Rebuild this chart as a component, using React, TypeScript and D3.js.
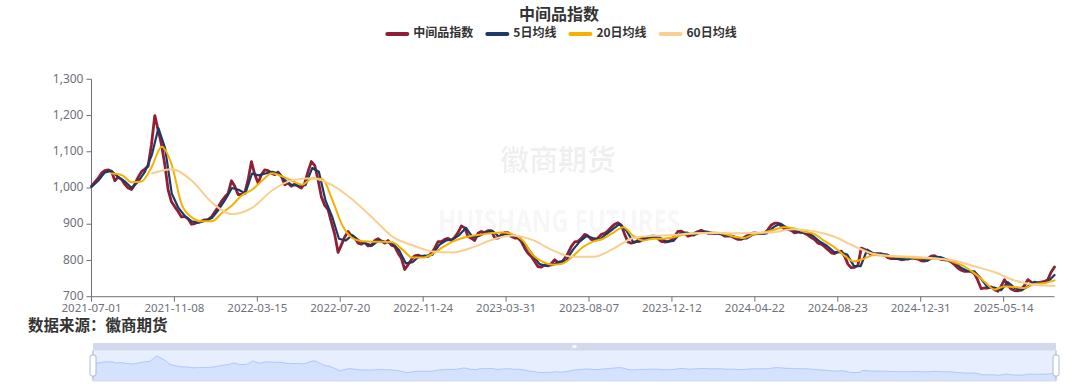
import React from 'react';
import * as d3 from 'd3';

const TITLE = '中间品指数';
const SOURCE = '数据来源：徽商期货';
const WATERMARK_CN = '徽商期货';
const WATERMARK_EN = 'HUISHANG FUTURES';
const SERIES_NAMES = ['中间品指数', '5日均线', '20日均线', '60日均线'];
const SERIES_COLORS = ['#8E1F35', '#1F3864', '#F5B000', '#F8CF8E'];

const Y_TICKS = [700, 800, 900, 1000, 1100, 1200, 1300];
const X_TICK_LABELS = [
  '2021-07-01', '2021-11-08', '2022-03-15', '2022-07-20', '2022-11-24', '2023-03-31',
  '2023-08-07', '2023-12-12', '2024-04-22', '2024-08-23', '2024-12-31', '2025-05-14',
];
// trading-day index of each labelled category
const X_TICK_DAY = [0, 88, 176, 264, 352, 440, 528, 616, 704, 792, 880, 968];
const TOTAL_DAYS = 1023;

// 中间品指数, sampled evenly across the whole period
const INDEX_VALUES = [
  1005, 1016, 1027, 1041, 1048, 1050, 1046, 1020, 1030, 1024, 1010, 1000, 996, 1010, 1030, 1045, 1052, 1060, 1120, 1200,
  1160, 1120, 1065, 995, 962, 948, 935, 920, 922, 915, 900, 902, 906, 909, 912, 913, 920, 934, 947, 963,
  975, 985, 1020, 1005, 982, 982, 986, 1023, 1073, 1037, 1014, 1037, 1050, 1048, 1041, 1037, 1044, 1032, 1009, 1014,
  1005, 1011, 1005, 1000, 1014, 1046, 1073, 1062, 1022, 975, 952, 940, 905,
  872, 822, 843, 865, 880, 868, 862, 848, 845, 850, 840, 841, 855, 860, 853, 848, 855, 842, 839, 820,
  806, 775, 788, 802, 813, 815, 811, 813, 811, 820, 834, 852, 852, 858, 861, 855, 864, 877, 895, 890,
  866, 861, 855, 875, 880, 877, 882, 882, 862, 862, 871, 877, 877, 866, 862, 862, 852, 834, 820, 811,
  797, 783, 782, 788, 785, 791, 802, 794, 793, 806, 820, 839,
  851, 853, 861, 872, 868, 858, 855, 862, 872, 875, 882, 892, 900, 904, 897, 872, 851, 848, 850, 855,
  860, 862, 864, 867, 867, 860, 853, 851, 852, 856, 868, 880, 881, 875, 867, 870, 875, 880, 883, 879,
  875, 875, 875, 875, 873, 867, 867, 867, 862, 858, 858, 864, 870, 875, 876, 875, 875, 875, 885, 898,
  903, 903, 895, 886, 886, 883, 876, 878, 879, 875, 870, 863,
  858, 848, 845, 838, 830, 821, 819, 824, 826, 812, 790, 780, 781, 786, 834, 831, 823, 816, 818, 819,
  818, 815, 808, 805, 806, 805, 802, 803, 808, 807, 806, 804, 799, 798, 805, 812, 813, 807, 803, 802,
  801, 796, 788, 779, 773, 770, 770, 770, 763, 745, 722, 724, 724, 727, 719, 715, 729, 747, 732, 721,
  717, 716, 720, 731, 747, 740, 736, 738, 740, 742, 747, 768, 782,
];

// 5日均线
const MA5_VALUES = [
  1003, 1020, 1043, 1047, 1030, 1018, 1000, 1018, 1045, 1090, 1165, 1110, 985, 945, 922, 908, 904, 910, 917, 940,
  968, 1000, 995, 985, 1040, 1035, 1040, 1045, 1040, 1020, 1008, 1007, 1008, 1055, 1045, 965, 920, 860, 855, 870,
  855, 847, 842, 856, 851, 847, 828, 792, 795, 812, 812, 816, 843, 855, 858, 870, 890, 864, 868, 878,
  881, 864, 874, 870, 863, 840, 815, 790, 785, 788, 797, 800, 830, 852, 867, 862, 858, 873, 887, 901,
  882, 851, 852, 861, 865, 863, 852, 854, 874, 877, 869, 877, 880, 875, 875, 869, 867, 860, 861, 872,
  875, 875, 892, 902, 890, 884, 877, 877, 866, 851, 840, 824, 822, 816, 785, 784, 830, 819, 818, 816,
  806, 805, 803, 807, 805, 799, 810, 809, 802, 797, 780, 771, 770, 750, 726, 725, 718, 740, 725, 717,
  728, 741, 737, 741, 760,
];

// 20日均线
const MA20_VALUES = [
  null, null, 1040, 1036, 1016, 1018, 1058, 1114, 1064, 954, 919, 908, 908, 931, 952, 980, 995, 1020, 1041, 1032,
  1020, 1009, 1027, 1025, 968, 897, 862, 853, 852, 852, 850, 830, 808, 808, 818, 836, 852, 862, 868, 872,
  876, 877, 872, 855, 815, 796, 788, 792, 812, 837, 852, 860, 876, 892, 868, 855, 860, 860, 864, 871,
  874, 876, 877, 874, 866, 862, 872, 877, 884, 892, 889, 880, 874, 855, 838, 815, 797, 805, 815, 813,
  810, 809, 807, 806, 805, 803, 795, 784, 765, 742, 720, 728, 727, 724, 735, 738, 745,
];

// 60日均线
const MA60_VALUES = [
  null, null, null, 1040, 1052, 1020, 960, 928, 945, 993, 1021, 1027, 1008, 968, 918, 866, 842, 825, 822, 836,
  858, 869, 856, 828, 810, 810, 832, 862, 868, 870, 875, 876, 875, 876, 878, 886, 881, 866, 840, 818,
  812, 810, 806, 800, 784, 768, 745, 733, 730,
];

const SERIES_DATA = [INDEX_VALUES, MA5_VALUES, MA20_VALUES, MA60_VALUES];
const SERIES_WIDTHS = [2.8, 2.2, 2, 2];
const SERIES_SMOOTH = [false, false, true, true];

const W = 1080;
const H = 389;
const X0 = 91.5;
const X1 = 1054.5;
const Y_TOP = 79.3;
const Y_BOT = 296.7;

const SL_X0 = 93;
const SL_X1 = 1056;
const SL_TOP = 350;
const SL_BOT = 381;
const SL_STRIP = 7;

const AXIS_COLOR = '#6E7079';
const SANS = '"Noto Sans", "Noto Sans CJK SC", sans-serif';
const CJK = '"Noto Sans CJK SC", "Noto Sans", sans-serif';

function measure(text: string, font: string, fallback: number): number {
  try {
    const c = document.createElement('canvas').getContext('2d');
    if (c) {
      c.font = font;
      return c.measureText(text).width;
    }
  } catch (e) {}
  return fallback;
}

export default function App() {
  const xDay = d3.scaleLinear().domain([0, TOTAL_DAYS - 1]).range([X0, X1]);
  const y = d3.scaleLinear().domain([700, 1300]).range([Y_BOT, Y_TOP]);

  const paths = SERIES_DATA.map((arr, si) => {
    const xs = d3.scaleLinear().domain([0, arr.length - 1]).range([X0, X1]);
    const gen = d3
      .line<number | null>()
      .defined((d) => d != null)
      .x((_, i) => xs(i))
      .y((d) => y(d as number))
      .curve(SERIES_SMOOTH[si] ? d3.curveMonotoneX : d3.curveLinear);
    return gen(arr as (number | null)[]) || '';
  });

  // data zoom shadow
  const ext = d3.extent(INDEX_VALUES) as [number, number];
  const margin = (ext[1] - ext[0]) * 0.3;
  const sx = d3.scaleLinear().domain([0, INDEX_VALUES.length - 1]).range([SL_X0, SL_X1]);
  const sy = d3.scaleLinear().domain([ext[0] - margin, ext[1] + margin]).range([SL_BOT, SL_TOP]);
  const shadowArea =
    d3
      .area<number>()
      .x((_, i) => sx(i))
      .y0(SL_BOT)
      .y1((d) => sy(d))(INDEX_VALUES) || '';
  const shadowLine =
    d3
      .line<number>()
      .x((_, i) => sx(i))
      .y((d) => sy(d))(INDEX_VALUES) || '';

  // legend layout
  const legendFont = `700 12px "Noto Sans CJK SC"`;
  const iconW = 24;
  const iconGap = 4;
  const itemGap = 12;
  const textW = SERIES_NAMES.map((n) => measure(n, legendFont, n.length * 11));
  const total = textW.reduce((a, b) => a + b + iconW + iconGap, 0) + itemGap * (SERIES_NAMES.length - 1);
  let cursor = 561 - total / 2;
  const legendItems = SERIES_NAMES.map((n, i) => {
    const item = { name: n, x: cursor, color: SERIES_COLORS[i] };
    cursor += iconW + iconGap + textW[i] + itemGap;
    return item;
  });

  const handle = (cx: number) => (
    <g>
      <line x1={cx} x2={cx} y1={SL_TOP + 1} y2={SL_TOP + 5} stroke="#ACB8D1" strokeWidth={1} />
      <line x1={cx} x2={cx} y1={SL_BOT - 5} y2={SL_BOT - 1} stroke="#ACB8D1" strokeWidth={1} />
      <rect x={cx - 3} y={SL_TOP + 5} width={6} height={SL_BOT - SL_TOP - 10} rx={2} fill="#fff" stroke="#ACB8D1" strokeWidth={1} />
    </g>
  );

  return (
    <svg
      width={W}
      height={H}
      viewBox={`0 0 ${W} ${H}`}
      style={{ position: 'absolute', left: 0, top: 0, background: '#fff' }}
    >
      <rect x={0} y={0} width={W} height={H} fill="#fff" />

      {/* watermarks */}
      <text x={558} y={163} textAnchor="middle" dominantBaseline="middle" fontFamily={CJK} fontSize={29} fontWeight={700} fill="#000" fillOpacity={0.06}>
        {WATERMARK_CN}
      </text>
      <text x={559} y={224} textAnchor="middle" dominantBaseline="middle" fontFamily={SANS} fontSize={30} fontWeight={700} fill="#000" fillOpacity={0.05} textLength={242} lengthAdjust="spacingAndGlyphs">
        {WATERMARK_EN}
      </text>

      {/* title */}
      <text x={559} y={16} textAnchor="middle" dominantBaseline="middle" fontFamily={CJK} fontSize={16} fontWeight={700} fill="#333">
        {TITLE}
      </text>

      {/* legend */}
      {legendItems.map((it) => (
        <g key={it.name}>
          <line x1={it.x + 2} x2={it.x + iconW - 2} y1={34} y2={34} stroke={it.color} strokeWidth={4} strokeLinecap="round" />
          <text x={it.x + iconW + iconGap} y={34} dominantBaseline="middle" fontFamily={CJK} fontSize={12} fontWeight={700} fill="#333">
            {it.name}
          </text>
        </g>
      ))}

      {/* y axis */}
      <line x1={X0} x2={X0} y1={Y_TOP} y2={Y_BOT} stroke={AXIS_COLOR} strokeWidth={1} />
      {Y_TICKS.map((t) => (
        <g key={t}>
          <line x1={X0 - 5} x2={X0} y1={y(t)} y2={y(t)} stroke={AXIS_COLOR} strokeWidth={1} />
          <text x={X0 - 8} y={y(t)} textAnchor="end" dominantBaseline="middle" fontFamily={SANS} fontSize={12} fill={AXIS_COLOR}>
            {d3.format(',')(t)}
          </text>
        </g>
      ))}

      {/* x axis */}
      <line x1={X0} x2={X1} y1={Y_BOT} y2={Y_BOT} stroke={AXIS_COLOR} strokeWidth={1} />
      {X_TICK_LABELS.map((lab, i) => (
        <g key={lab}>
          <line x1={xDay(X_TICK_DAY[i])} x2={xDay(X_TICK_DAY[i])} y1={Y_BOT} y2={Y_BOT + 5} stroke={AXIS_COLOR} strokeWidth={1} />
          <text x={xDay(X_TICK_DAY[i])} y={Y_BOT + 12.5} textAnchor="middle" dominantBaseline="middle" fontFamily={SANS} fontSize={11.5} fill={AXIS_COLOR}>
            {lab}
          </text>
        </g>
      ))}

      {/* series */}
      {paths.map((d, i) => (
        <path key={i} d={d} fill="none" stroke={SERIES_COLORS[i]} strokeWidth={SERIES_WIDTHS[i]} strokeLinejoin="round" strokeLinecap="round" />
      ))}

      {/* source */}
      <text x={28} y={327} dominantBaseline="middle" fontFamily={CJK} fontSize={15.5} fontWeight={700} fill="#333">
        {SOURCE}
      </text>

      {/* data zoom slider */}
      <rect x={SL_X0} y={SL_TOP - SL_STRIP} width={SL_X1 - SL_X0} height={SL_STRIP} fill="#D2DBEE" />
      <rect x={(SL_X0 + SL_X1) / 2 - 2} y={SL_TOP - SL_STRIP + 2} width={4} height={3} fill="#fff" fillOpacity={0.8} />
      <rect x={SL_X0} y={SL_TOP} width={SL_X1 - SL_X0} height={SL_BOT - SL_TOP} fill="rgb(135,175,255)" fillOpacity={0.2} />
      <path d={shadowArea} fill="#8fb0f7" fillOpacity={0.2} />
      <path d={shadowLine} fill="none" stroke="#8fb0f7" strokeWidth={0.6} />
      <rect x={SL_X0} y={SL_TOP} width={SL_X1 - SL_X0} height={SL_BOT - SL_TOP} fill="none" stroke="#D2DBEE" strokeWidth={1} />
      {handle(SL_X0)}
      {handle(SL_X1)}
    </svg>
  );
}
